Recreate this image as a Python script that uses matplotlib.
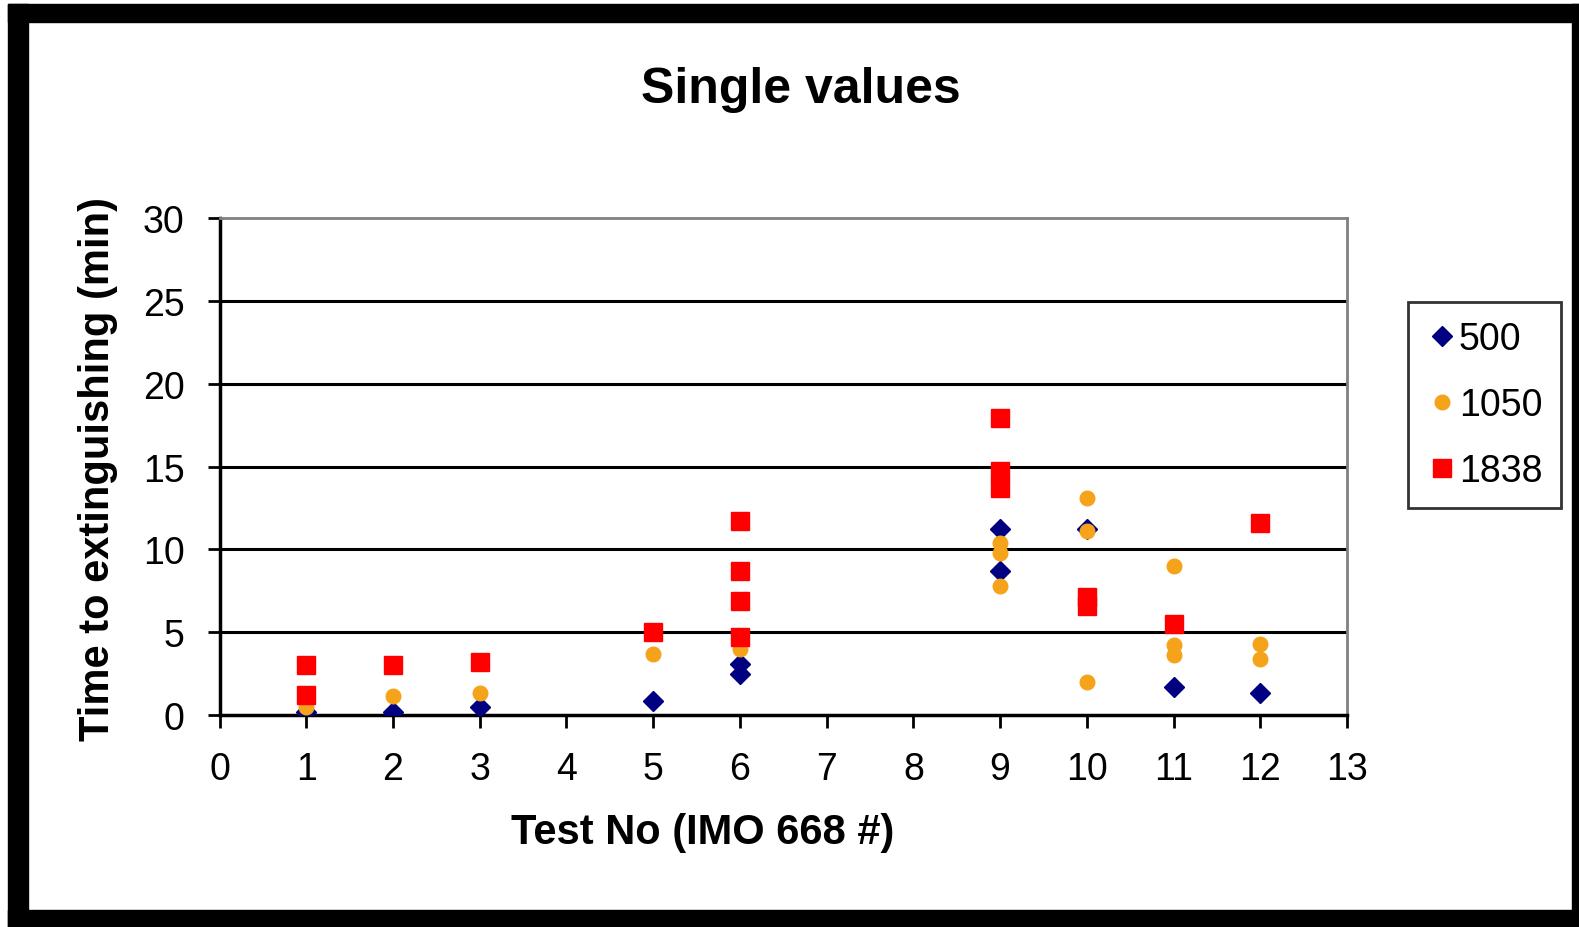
import matplotlib.pyplot as plt
from matplotlib.patches import Rectangle

plt.rcParams['font.family'] = ['Liberation Sans', 'DejaVu Sans']

# values
x_500 = [1, 2, 3, 5, 6, 6, 9, 9, 10, 11, 12]
y_500 = [0.2, 0.2, 0.5, 0.85, 3.1, 2.5, 11.2, 8.7, 11.2, 1.7, 1.3]

x_1050 = [1, 2, 3, 5, 6, 9, 9, 9, 10, 10, 10, 11, 11, 11, 12, 12]
y_1050 = [0.5, 1.15, 1.3, 3.7, 4.0, 10.4, 9.8, 7.8, 13.1, 11.1, 2.0, 9.0, 4.2, 3.6, 4.3, 3.4]

x_1838 = [1, 1, 2, 3, 5, 6, 6, 6, 6, 9, 9, 9, 10, 10, 11, 12]
y_1838 = [3.0, 1.2, 3.0, 3.2, 5.0, 11.7, 8.7, 6.9, 4.7, 17.9, 14.7, 13.7, 7.1, 6.6, 5.5, 11.6]

W, H = 1579, 928
fig = plt.figure(figsize=(W / 100, H / 100), dpi=100)
ax = fig.add_axes([219.5 / W, 1 - 716 / H, (1347 - 219.5) / W, (716 - 219) / H])

for y in [5, 10, 15, 20, 25]:
    ax.axhline(y, color='black', lw=2.2, zorder=1)

ax.plot(x_500, y_500, 'D', color='#000080', ms=10, ls='none', label='500', zorder=3)
ax.plot(x_1050, y_1050, 'o', color='#F5A31A', ms=10.5, ls='none', label='1050', zorder=3)
ax.plot(x_1838, y_1838, 's', color='#FF0000', ms=13, ls='none', label='1838', zorder=3)

ax.set_xlim(0, 13)
ax.set_ylim(0, 30)
ax.set_xticks(range(0, 14))
ax.set_yticks(range(0, 31, 5))
ax.tick_params(labelsize=27, length=9, width=2, direction='out', colors='black')
ax.tick_params(axis='x', pad=17)
ax.tick_params(axis='y', pad=16)

for s in ['top', 'right']:
    ax.spines[s].set_color('#808080')
    ax.spines[s].set_linewidth(2)
for s in ['left', 'bottom']:
    ax.spines[s].set_color('black')
    ax.spines[s].set_linewidth(2.5)

fig.text(0.507, 0.903, 'Single values', fontsize=36, fontweight='bold', ha='center', va='center')
fig.text(0.445, 0.102, 'Test No (IMO 668 #)', fontsize=30, fontweight='bold', ha='center', va='center')
fig.text(0.062, 0.495, 'Time to extinguishing (min)', fontsize=30, fontweight='bold',
         ha='center', va='center', rotation=90)

leg = fig.legend(loc='upper left', bbox_to_anchor=(1408 / W, 1 - 303 / H), fontsize=27, frameon=True,
                 fancybox=False, handletextpad=0.05, handlelength=0.8, labelspacing=0.8,
                 borderpad=0.5, borderaxespad=0)
leg.get_frame().set_edgecolor('black')
leg.get_frame().set_linewidth(2)

# black picture frame
for x0, y0, w, h in [(8, 5, 20, 923), (8, 5, 1571, 18), (1572, 5, 7, 923), (8, 911, 1571, 17)]:
    fig.patches.append(Rectangle((x0 / W, 1 - (y0 + h) / H), w / W, h / H,
                                 transform=fig.transFigure, color='black'))

fig.savefig('out.png', dpi=100)
